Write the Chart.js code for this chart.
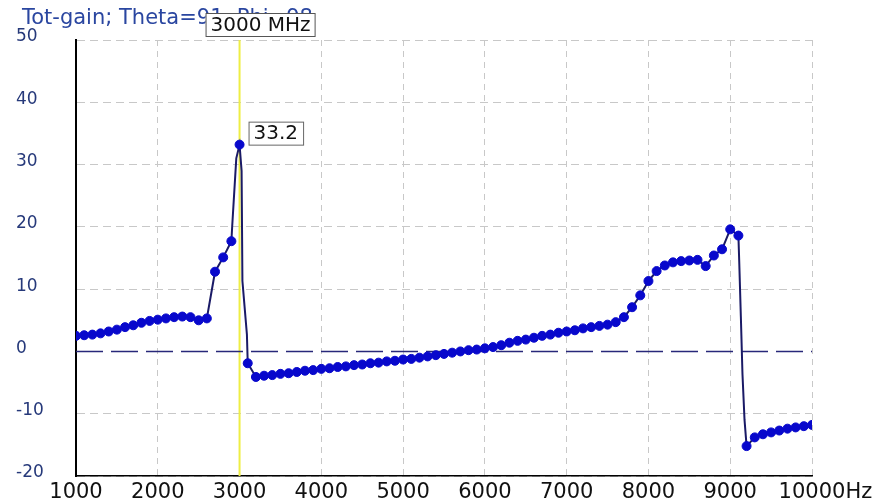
<!DOCTYPE html>
<html>
<head>
<meta charset="utf-8">
<style>
  html, body { margin: 0; padding: 0; background: #fff; }
  #wrap { width: 887px; height: 503px; }
</style>
<script src="https://cdn.jsdelivr.net/npm/chart.js@4.4.1/dist/chart.umd.min.js"></script>
</head>
<body>
<div id="wrap"><canvas id="gainChart" width="887" height="503"></canvas></div>
<script>
// sampled points (drawn with markers), MHz / dB
const freqMHz = [
  1000, 1100, 1200, 1300, 1400, 1500, 1600, 1700, 1800, 1900,
  2000, 2100, 2200, 2300, 2400, 2500, 2600, 2700, 2800, 2900,
  3000, 3100, 3200, 3300, 3400, 3500, 3600, 3700, 3800, 3900,
  4000, 4100, 4200, 4300, 4400, 4500, 4600, 4700, 4800, 4900,
  5000, 5100, 5200, 5300, 5400, 5500, 5600, 5700, 5800, 5900,
  6000, 6100, 6200, 6300, 6400, 6500, 6600, 6700, 6800, 6900,
  7000, 7100, 7200, 7300, 7400, 7500, 7600, 7700, 7800, 7900,
  8000, 8100, 8200, 8300, 8400, 8500, 8600, 8700, 8800, 8900,
  9000, 9100, 9200, 9300, 9400, 9500, 9600, 9700, 9800, 9900,
  10000
];
const gainDb = [
  2.5, 2.6, 2.7, 2.9, 3.2, 3.5, 3.9, 4.2, 4.6, 4.9,
  5.1, 5.3, 5.5, 5.6, 5.5, 5.0, 5.3, 12.8, 15.1, 17.7,
  33.2, -1.9, -4.1, -3.9, -3.8, -3.6, -3.5, -3.3, -3.1, -3.0,
  -2.8, -2.7, -2.5, -2.4, -2.2, -2.1, -1.9, -1.8, -1.6, -1.5,
  -1.3, -1.2, -1.0, -0.8, -0.6, -0.4, -0.2, 0.0, 0.2, 0.3,
  0.5, 0.7, 1.0, 1.4, 1.7, 1.9, 2.2, 2.5, 2.7, 3.0,
  3.2, 3.4, 3.7, 3.9, 4.1, 4.3, 4.7, 5.5, 7.1, 9.0,
  11.3, 12.9, 13.8, 14.3, 14.5, 14.6, 14.7, 13.7, 15.4, 16.4,
  19.6, 18.6, -15.2, -13.8, -13.3, -13.0, -12.7, -12.4, -12.2, -12.0,
  -11.8
];

// extra trace vertices on the steep edges (no marker)
const stepFreqMHz = [2910, 2960, 3025, 3035, 3090, 9110, 9130, 9150, 9175];
const stepGainDb = [20.1, 31.0, 29.0, 11.3, 2.7, 14.5, 5.6, -3.7, -11.0];

const xTickValues = [1000, 2000, 3000, 4000, 5000, 6000, 7000, 8000, 9000, 10000];
const yTickValues = [-20, -10, 0, 10, 20, 30, 40, 50];

const chartTitle = 'Tot-gain; Theta=91, Phi=98';
const cursorFreq = 3000;
const cursorText = '3000 MHz';
const xUnit = 'Hz';

const FONT = 'DejaVu Sans';

const markerPoints = freqMHz.map((f, i) => ({ x: f, y: gainDb[i] }));
const tracePoints = markerPoints
  .concat(stepFreqMHz.map((f, i) => ({ x: f, y: stepGainDb[i] })))
  .sort((a, b) => a.x - b.x);

const xMin = xTickValues[0], xMax = xTickValues[xTickValues.length - 1];
const yMin = yTickValues[0], yMax = yTickValues[yTickValues.length - 1];

// title, cursor readouts and the unit after the last tick
const overlay = {
  id: 'overlay',
  afterDraw(chart) {
    const { ctx, scales: { x, y } } = chart;
    ctx.save();

    ctx.font = '21px "' + FONT + '"';
    ctx.textBaseline = 'top';
    ctx.textAlign = 'left';
    ctx.fillStyle = '#2a46a0';
    ctx.fillText(chartTitle, 22, 8);

    // frequency box at the cursor
    const cx = x.getPixelForValue(cursorFreq);
    ctx.font = '20px "' + FONT + '"';
    const fw = ctx.measureText(cursorText).width;
    const bx = cx - 34, by = 13, bw = fw + 9, bh = 23;
    ctx.fillStyle = '#fff';
    ctx.fillRect(bx, by, bw, bh);
    ctx.strokeStyle = '#555';
    ctx.lineWidth = 1;
    ctx.strokeRect(bx + 0.5, by + 0.5, bw, bh);
    ctx.fillStyle = '#111';
    ctx.textBaseline = 'middle';
    ctx.fillText(cursorText, bx + 5, by + bh / 2 + 1);

    // value box next to the cursor point
    const idx = freqMHz.indexOf(cursorFreq);
    const val = gainDb[idx];
    const px = x.getPixelForValue(cursorFreq);
    const py = y.getPixelForValue(val);
    const vt = val.toFixed(1);
    const vw = ctx.measureText(vt).width;
    const vx = px + 9, vh = 23, vy = py - vh;
    ctx.fillStyle = '#fff';
    ctx.fillRect(vx, vy, vw + 10, vh);
    ctx.strokeStyle = '#666';
    ctx.strokeRect(vx + 0.5, vy + 0.5, vw + 10, vh);
    ctx.fillStyle = '#111';
    ctx.fillText(vt, vx + 5, vy + vh / 2 + 1);

    // unit after the last x label
    ctx.font = '21px "' + FONT + '"';
    const lastW = ctx.measureText(String(xMax)).width;
    ctx.fillStyle = '#111';
    ctx.fillText(xUnit, x.getPixelForValue(xMax) + lastW / 2, x.top + 4 + 21 * 1.2 / 2);

    ctx.restore();
  }
};

const gridColor = (c) => (c.tick && c.tick.value === 0) ? 'rgba(0,0,0,0)' : '#c8c8c8';

new Chart(document.getElementById('gainChart'), {
  type: 'line',
  data: {
    datasets: [
      {
        label: 'markers',
        data: markerPoints,
        showLine: false,
        pointRadius: 4.5,
        pointBackgroundColor: '#0808cc',
        pointBorderColor: '#0808cc',
        pointBorderWidth: 1
      },
      {
        label: 'trace',
        data: tracePoints,
        borderColor: '#1a1a66',
        borderWidth: 2,
        pointRadius: 0,
        tension: 0
      },
      {
        label: 'zero',
        data: [{ x: xMin, y: 0 }, { x: xMax, y: 0 }],
        borderColor: '#28287a',
        borderWidth: 1.5,
        borderDash: [27, 8],
        pointRadius: 0
      },
      {
        label: 'cursor',
        data: [{ x: cursorFreq, y: yMin }, { x: cursorFreq, y: yMax }],
        borderColor: '#eeee44',
        borderWidth: 2,
        pointRadius: 0
      }
    ]
  },
  options: {
    responsive: false,
    animation: false,
    layout: { padding: { left: 16, right: 75, top: 40, bottom: 0 } },
    plugins: {
      legend: { display: false },
      tooltip: { enabled: false },
      title: { display: false }
    },
    scales: {
      x: {
        type: 'linear',
        min: xMin,
        max: xMax,
        afterBuildTicks: (axis) => { axis.ticks = xTickValues.map(v => ({ value: v })); },
        afterFit: (axis) => { axis.height = 27; },
        grid: { color: gridColor, lineWidth: 1, drawTicks: false },
        border: { display: true, color: '#000', width: 1.5, dash: [6, 5] },
        ticks: {
          padding: 4,
          maxRotation: 0,
          autoSkip: false,
          color: '#111',
          font: { family: FONT, size: 21 },
          callback: (v) => String(v)
        }
      },
      y: {
        min: yMin,
        max: yMax,
        afterBuildTicks: (axis) => { axis.ticks = yTickValues.map(v => ({ value: v })); },
        afterFit: (axis) => { axis.width = 60; },
        grid: { color: gridColor, lineWidth: 1, drawTicks: false },
        border: { display: true, color: '#000', width: 2, dash: [8, 5] },
        ticks: {
          crossAlign: 'far',
          labelOffset: -3,
          color: '#26397a',
          font: { family: FONT, size: 17 },
          callback: (v) => String(v)
        }
      }
    }
  },
  plugins: [overlay]
});
</script>
</body>
</html>
